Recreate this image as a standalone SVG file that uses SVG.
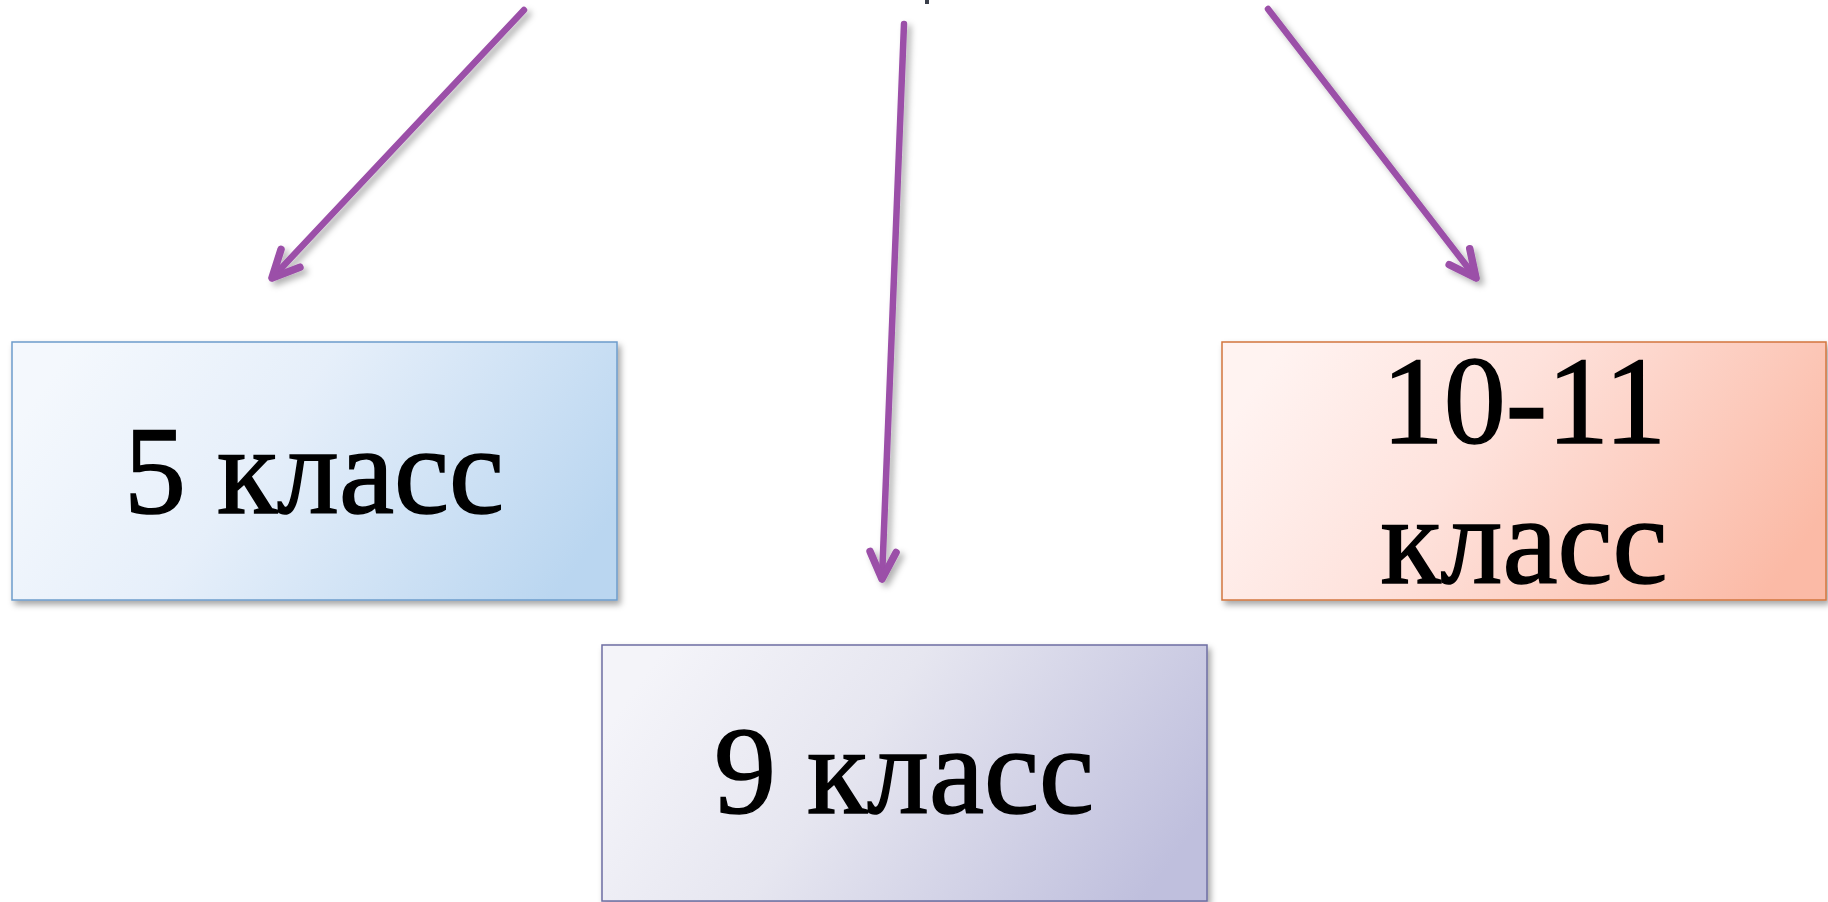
<svg xmlns="http://www.w3.org/2000/svg" width="1828" height="902" viewBox="0 0 1828 902">
<style>
.lbl{font-family:"Liberation Serif","DejaVu Serif",serif;font-size:124px;fill:#000;stroke:#000;stroke-width:1.6;text-anchor:middle}
.conn{fill:none;stroke:#9B4FA8;stroke-width:6.5;stroke-linecap:round}
</style>
<defs>
<filter id="sh" x="-10%" y="-10%" width="130%" height="130%">
<feDropShadow dx="3" dy="4" stdDeviation="3" flood-color="#000" flood-opacity="0.35"/>
</filter>
<filter id="ash" x="-20%" y="-20%" width="150%" height="150%">
<feDropShadow dx="4" dy="4" stdDeviation="3" flood-color="#000" flood-opacity="0.3"/>
</filter>
<marker id="ah" markerUnits="userSpaceOnUse" viewBox="-34 -20 40 40" refX="0" refY="0" markerWidth="40" markerHeight="40" orient="auto">
<path d="M -27 -13 L 0 0 L -27 13" fill="none" stroke="#9B4FA8" stroke-width="7.5" stroke-linecap="round" stroke-linejoin="round"/>
</marker>
<linearGradient id="gBlue" x1="0" y1="0.35" x2="1" y2="0.65">
<stop offset="0" stop-color="#F4F8FD"/>
<stop offset="0.4" stop-color="#E6EFFA"/>
<stop offset="1" stop-color="#BAD6F0"/>
</linearGradient>
<linearGradient id="gViolet" x1="0" y1="0.35" x2="1" y2="0.65">
<stop offset="0" stop-color="#F4F4F9"/>
<stop offset="0.4" stop-color="#E6E6F0"/>
<stop offset="1" stop-color="#BFBFDD"/>
</linearGradient>
<linearGradient id="gSalmon" x1="0" y1="0.35" x2="1" y2="0.65">
<stop offset="0" stop-color="#FFF3F1"/>
<stop offset="0.4" stop-color="#FEE2DC"/>
<stop offset="1" stop-color="#FBBAA6"/>
</linearGradient>
</defs>
<rect width="1828" height="902" fill="#fff"/>
<rect x="925" y="0" width="4" height="4" fill="#3a3f4b"/>
<g id="connectors" filter="url(#ash)">
<line class="conn" x1="524" y1="10" x2="272" y2="278" marker-end="url(#ah)"/>
<line class="conn" x1="904" y1="24" x2="882" y2="579" marker-end="url(#ah)"/>
<line class="conn" x1="1268" y1="9" x2="1476" y2="278" marker-end="url(#ah)"/>
</g>
<g id="node-5">
<rect x="12" y="342" width="605" height="258" fill="url(#gBlue)" stroke="#6C9CCB" stroke-width="1.5" filter="url(#sh)"/>
<text class="lbl" x="314" y="513">5 класс</text>
</g>
<g id="node-9">
<rect x="602" y="645" width="605" height="256" fill="url(#gViolet)" stroke="#6E6EA2" stroke-width="1.5" filter="url(#sh)"/>
<text class="lbl" x="904" y="813">9 класс</text>
</g>
<g id="node-10-11">
<rect x="1222" y="342" width="604" height="258" fill="url(#gSalmon)" stroke="#D2763F" stroke-width="1.5" filter="url(#sh)"/>
<text class="lbl" x="1524" y="443">10-11</text>
<text class="lbl" x="1524" y="583">класс</text>
</g>
</svg>
